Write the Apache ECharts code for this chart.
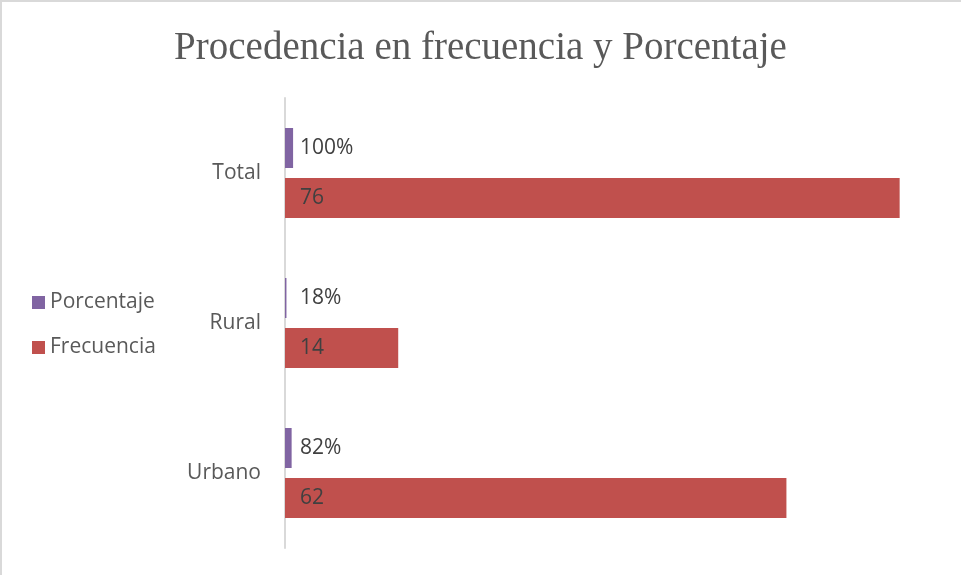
<!DOCTYPE html>
<html>
<head>
<meta charset="utf-8">
<script src="https://cdn.jsdelivr.net/npm/echarts@6/dist/echarts.min.js"></script>
<style>
  body { margin: 0; background: #fff; }
</style>
</head>
<body>
<div id="main" style="width: 961px;height:575px"></div>
<script>
var categories = ['Urbano', 'Rural', 'Total']
var frecuencia = [62, 14, 76]
var porcentaje = [0.82, 0.18, 1]
var porcentajeLabels = ['82%', '18%', '100%']

var mychart = echarts.init(document.getElementById('main'))
mychart.setOption({
  backgroundColor: '#fff',
  animation: false,
  title: {
    text: 'Procedencia en frecuencia y Porcentaje',
    left: 'center',
    top: 24,
    textStyle: {
      fontFamily: 'Liberation Serif',
      fontSize: 39,
      color: '#595959',
      fontWeight: 'normal'
    }
  },
  graphic: [{
    type: 'rect',
    shape: { x: 1, y: 1, width: 980, height: 600 },
    style: { fill: 'none', stroke: '#d9d9d9', lineWidth: 2 },
    silent: true
  }],
  legend: {
    orient: 'vertical',
    left: 27,
    top: 287,
    itemWidth: 13,
    itemHeight: 13,
    itemGap: 24,
    icon: 'rect',
    data: ['Porcentaje', 'Frecuencia'],
    textStyle: {
      fontFamily: 'Open Sans',
      fontSize: 21,
      color: '#595959'
    }
  },
  grid: {
    left: 285,
    right: 29,
    top: 98,
    bottom: 27
  },
  xAxis: {
    type: 'value',
    min: 0,
    max: 80,
    show: false
  },
  yAxis: {
    type: 'category',
    data: categories,
    axisLine: { lineStyle: { color: '#d9d9d9', width: 2 } },
    axisTick: { show: false },
    axisLabel: {
      margin: 24,
      fontFamily: 'Open Sans',
      fontSize: 21,
      color: '#595959'
    }
  },
  series: [{
    name: 'Porcentaje',
    type: 'bar',
    data: porcentaje,
    barWidth: 40,
    barGap: '25%',
    itemStyle: { color: '#8064A2' },
    label: {
      show: true,
      position: 'insideLeft',
      distance: 15,
      fontFamily: 'Open Sans',
      fontSize: 21,
      color: '#404040',
      formatter: function (p) {
        return porcentajeLabels[p.dataIndex]
      }
    }
  }, {
    name: 'Frecuencia',
    type: 'bar',
    data: frecuencia,
    barWidth: 40,
    barGap: '25%',
    itemStyle: { color: '#C0504D' },
    label: {
      show: true,
      position: 'insideLeft',
      distance: 15,
      fontFamily: 'Open Sans',
      fontSize: 21,
      color: '#404040'
    }
  }]
})
</script>
</body>
</html>
